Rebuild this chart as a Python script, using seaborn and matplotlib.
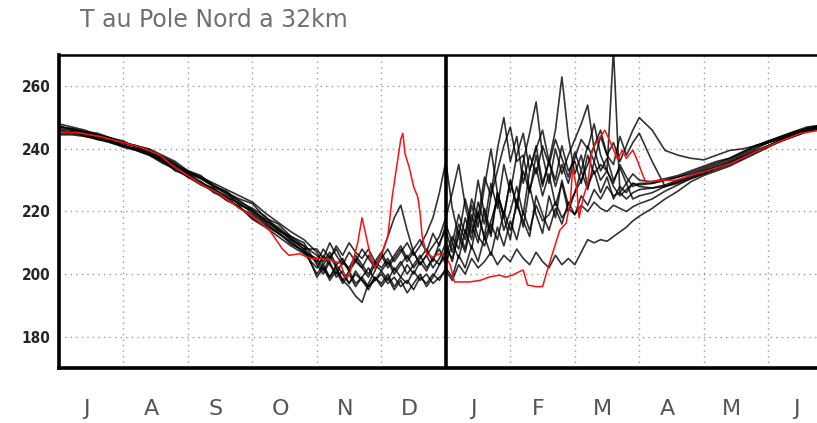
import numpy as np
import pandas as pd
import matplotlib
matplotlib.use('agg')
import matplotlib.pyplot as plt
import seaborn as sns

# axe des temps : jours depuis le 1er juillet (calendrier 360 j)
days = np.concatenate([np.arange(0, 120, 6), np.arange(120, 270, 3), np.arange(270, 361, 6)])

months = ["J", "A", "S", "O", "N", "D", "J", "F", "M", "A", "M", "J"]

# membres en noir (juil-oct / nov-mar / avr-juin)
run01 = [247, 246.5, 245.5, 245, 243.5, 242, 241, 240, 238, 236,
         233, 231.5, 228, 226.5, 223, 221, 218.5, 214, 212, 209,
         206, 204, 207, 203, 205, 201, 204, 202, 199, 203,
         201, 204, 200, 203, 206, 202, 205, 208, 204, 210,
         214, 207, 216, 211, 222, 215, 228, 240, 226, 219,
         230, 221, 233, 226, 238, 228, 236, 230, 241, 233,
         236, 229, 238, 232, 235, 233, 272, 226, 229, 224,
         225, 226, 228, 229.5, 231, 233, 234, 235.5, 237.5, 239.5, 241, 243, 244.5, 246, 247, 248]
run02 = [245, 245, 244.5, 243, 242.5, 241, 240, 238.5, 236.5, 233,
         231.5, 229, 227.5, 224, 221.5, 218, 215.5, 213, 210.5, 207,
         204, 208, 205, 209, 206, 210, 207, 205, 208, 204,
         207, 203, 206, 209, 205, 208, 211, 207, 213, 209,
         216, 210, 219, 213, 224, 218, 231, 225, 240, 250,
         236, 244, 229, 238, 232, 241, 235, 243, 237, 231,
         239, 233, 241, 236, 244, 238, 242, 236, 241, 246,
         250, 246, 239.5, 238, 237, 236.5, 238, 239.5, 240, 241, 242, 243.5, 245, 246.5, 247.5, 248]
run03 = [248, 247, 246, 244.5, 243.5, 242.5, 240.5, 239.5, 237.5, 235,
         232.5, 231, 228.5, 226, 224, 222.5, 218, 216, 212, 210,
         203, 200, 204, 199, 201, 197, 200, 198, 196, 199,
         197, 200, 196, 199, 197, 201, 198, 200, 197, 199,
         201, 198, 203, 200, 205, 202, 204, 207, 203, 206,
         204, 208, 205, 203, 207, 204, 202, 206, 203, 205,
         203, 207, 211, 210, 211, 210.5, 212, 213.5, 215, 217,
         218.5, 221, 224, 226.5, 229.5, 231.5, 233, 234.5, 236.5, 238.5, 240.5, 242.5, 244, 245.5, 246.5, 247]
run04 = [246, 245, 244.5, 243.5, 242.5, 241, 240, 238.5, 236, 234,
         231, 229.5, 226, 224.5, 221, 219, 216, 213.5, 209.5, 207.5,
         200, 203, 199, 202, 198, 201, 197, 199, 196, 198,
         200, 197, 199, 196, 198, 195, 199, 197, 200, 198,
         202, 199, 206, 202, 209, 204, 212, 206, 215, 209,
         217, 211, 220, 214, 222, 217, 219, 223, 218, 221,
         219, 222, 220, 223, 221, 220, 222, 221, 220, 221.5,
         222.5, 224, 226.5, 228.5, 230.5, 232, 234, 235.5, 237, 239, 241, 242.5, 244.5, 246, 247, 247.5]
run05 = [247.5, 246, 245.5, 244, 243, 242, 240.5, 239, 237, 234.5,
         232.5, 230.5, 228, 225.5, 223.5, 220.5, 217.5, 215, 211.5, 208,
         208, 205, 210, 206, 203, 207, 204, 208, 205, 202,
         205, 208, 204, 207, 210, 206, 209, 213, 218, 226,
         236, 221, 212, 224, 216, 230, 219, 212, 226, 218,
         211, 224, 215, 228, 219, 213, 225, 218, 230, 222,
         226, 233, 227, 236, 230, 233, 228, 225, 227, 229,
         228, 227.5, 228.5, 230, 231.5, 233, 234.5, 236, 238, 240, 242, 243.5, 245, 246.5, 247.5, 248]
run06 = [245.5, 245.5, 244.5, 243.5, 242.5, 241, 239.5, 238, 235.5, 233.5,
         231, 228.5, 226.5, 223.5, 221.5, 217.5, 215, 212, 209, 206.5,
         202, 206, 203, 200, 204, 201, 205, 202, 206, 203,
         206, 202, 205, 208, 204, 207, 203, 206, 209, 212,
         218, 226, 235, 222, 213, 220, 211, 217, 224, 214,
         220, 228, 219, 233, 241, 229, 236, 246, 263, 244,
         232, 238, 228, 233, 226, 231, 224, 228, 226, 229,
         228.5, 229, 230, 231, 232, 233.5, 235, 236.5, 238.5, 240.5, 242, 243.5, 245, 246.5, 247, 247.5]
run07 = [246.5, 246, 245, 244.5, 243, 241.5, 241, 239.5, 237.5, 235.5,
         232, 230.5, 228, 226, 222, 220.5, 217, 214.5, 211, 209,
         199, 202, 198, 201, 197, 200, 196, 199, 202, 198,
         201, 198, 202, 199, 203, 200, 204, 201, 205, 203,
         208, 205, 212, 207, 216, 210, 221, 213, 226, 218,
         230, 222, 236, 245, 255, 238, 229, 240, 232, 238,
         243, 248, 254, 240, 233, 237, 230, 234, 229, 232,
         230, 229.5, 230.5, 231.5, 233, 234.5, 236, 237, 239, 241, 242.5, 244, 245.5, 247, 247.5, 248.5]
run08 = [244.5, 244.5, 244, 243, 242, 240.5, 239.5, 238, 236, 233.5,
         231.5, 229, 227, 224.5, 222.5, 219.5, 216.5, 213, 210, 207,
         205, 202, 199, 203, 200, 197, 201, 198, 195, 199,
         196, 199, 195, 198, 194, 197, 200, 196, 199, 203,
         206, 212, 208, 218, 211, 223, 216, 229, 221, 235,
         226, 238, 245, 233, 240, 246, 236, 228, 235, 229,
         237, 243, 240, 248, 238, 233, 229, 235, 231, 228,
         229, 229, 230, 231, 232.5, 234, 235.5, 237, 239, 241, 242.5, 244, 245.5, 246.5, 247, 247.5]
run09 = [247, 246.5, 245.5, 244.5, 243.5, 242, 241, 239.5, 237, 235,
         233, 231, 229, 227, 225, 223, 219.5, 216.5, 213.5, 211,
         207, 203, 206, 202, 198, 196, 193, 191, 197, 201,
         206, 212, 218, 222, 214, 207, 203, 206, 202, 205,
         210, 204, 214, 208, 219, 212, 209, 216, 211, 220,
         214, 222, 217, 212, 225, 219, 214, 221, 216, 223,
         219, 225, 222, 227, 224, 228, 225, 226, 224, 226,
         227, 227.5, 228, 229.5, 231, 232.5, 234, 235.5, 237.5, 239, 241, 243, 244.5, 246, 247, 247.5]
run10 = [246, 245.5, 244, 243.5, 242, 241, 240, 239, 236.5, 234,
         232, 229.5, 227, 225, 222.5, 220, 217, 214, 211, 208,
         204, 201, 205, 208, 204, 202, 206, 203, 200, 204,
         202, 205, 201, 204, 200, 203, 206, 202, 205, 208,
         203, 210, 205, 214, 208, 219, 212, 225, 233, 241,
         247, 236, 238, 227, 234, 225, 232, 222, 229, 220,
         226, 230, 235, 241, 246, 238, 235, 244, 238, 242,
         245, 236, 228, 229, 230.5, 232, 233.5, 235, 237, 239, 241, 242.5, 244, 245.5, 246.5, 247.5]

# l'annee en rouge
red_days = [0, 10, 19, 30, 38, 47, 54, 61, 68, 75, 84, 91, 98, 104, 107, 112, 117, 121, 126, 131,
            133, 135, 139, 141, 142, 145, 147, 149, 153, 155, 159, 160, 161, 163, 165, 167, 168, 169, 171, 174,
            177, 180, 182, 184, 187, 191, 196, 200, 205, 208, 211, 214, 216, 218, 222, 225, 228, 233, 236, 238,
            239, 241, 242, 244, 246, 248, 250, 254, 256, 260, 262, 264, 267, 269, 272, 273, 280, 287, 295, 303,
            313, 329, 345, 360]
red_T = [245.5, 245, 244, 242, 240.5, 238, 234, 231, 228, 225.5, 221, 218, 214, 208, 206, 206.5, 205, 205, 204.5, 203.5,
         199, 199.5, 210, 218, 215, 205.5, 202, 204.5, 212, 224.5, 243, 245, 238.5, 234, 228, 224.5, 219.5, 212, 206.5, 205.5,
         206.5, 205.5, 203, 197.5, 197.5, 197.5, 198, 199, 199.7, 199, 199.7, 200.7, 201.3, 196.5, 196, 196, 203, 214, 216.3, 223.7,
         234, 227, 218, 224.6, 229, 239.6, 242, 246, 243, 236.5, 239.6, 237, 239.6, 236.5, 231, 229.4, 230, 230, 231.7, 233.3,
         235.5, 240.6, 245, 246.5]

runs = [run01, run02, run03, run04, run05, run06, run07, run08, run09, run10]
df = pd.DataFrame({
    'day': np.tile(days, len(runs)),
    'T': np.concatenate(runs),
    'run': np.repeat(np.arange(len(runs)), len(days)),
})

sns.set_style("white")
plt.rcParams['font.family'] = ['DejaVu Sans']

fig = plt.figure(figsize=(8.17, 4.23), dpi=100)
ax = fig.add_axes([0.0722, 0.130, 0.947, 0.740])

sns.lineplot(data=df, x='day', y='T', units='run', estimator=None, color='black',
             alpha=0.8, lw=1.2, ax=ax, legend=False)
sns.lineplot(x=red_days, y=red_T, color='#ff1010', lw=1.1, ax=ax)

ax.axvline(180, color='black', lw=2.6, zorder=5)

ax.set_xlim(0, 360)
ax.set_ylim(170, 270)
ax.set_xlabel('')
ax.set_ylabel('')

ax.set_xticks(np.arange(30, 360, 30))
ax.set_xticklabels([])
ax.set_xticks(np.arange(12) * 30 + 13, minor=True)
ax.set_xticklabels(months, minor=True)
ax.set_yticks([180, 200, 220, 240, 260])
ax.set_yticklabels(['180', '200', '220', '240', '260'], fontweight='bold', fontstretch='condensed')

ax.tick_params(axis='x', which='major', direction='in', length=3, color='#888888')
ax.tick_params(axis='x', which='minor', length=0, pad=22, labelsize=16, labelcolor='#555555')
ax.tick_params(axis='y', which='major', direction='out', length=4, width=1.2, labelsize=11, pad=2)

ax.grid(which='major', color='#9a9a9a', linestyle=(0, (1, 3)), lw=1.0)
ax.set_axisbelow(True)

for side in ['left', 'bottom', 'top']:
    ax.spines[side].set_visible(True)
    ax.spines[side].set_color('black')
ax.spines['left'].set_linewidth(2.6)
ax.spines['bottom'].set_linewidth(2.6)
ax.spines['top'].set_linewidth(1.8)
ax.spines['right'].set_visible(False)

fig.text(0.098, 0.953, 'T au Pole Nord a 32km', fontsize=17, color='#707070', ha='left', va='center')

fig.savefig('out.png', dpi=100)
